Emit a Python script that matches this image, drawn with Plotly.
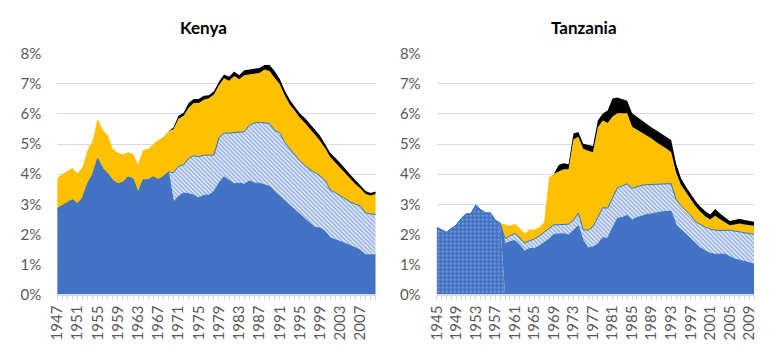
import plotly.graph_objects as go

# ---------------- DATA ----------------
kenya_years = list(range(1947, 2011))
kenya_blue = [2.86, 2.96, 3.07, 3.15, 3.02, 3.21, 3.68, 3.99, 4.52, 4.19,
              4.02, 3.79, 3.68, 3.73, 3.91, 3.84, 3.39, 3.81, 3.81, 3.91,
              3.82, 3.92, 4.07,
              3.07, 3.26, 3.37, 3.35, 3.30, 3.21, 3.30, 3.30, 3.42, 3.70,
              3.91, 3.79, 3.68, 3.70, 3.66, 3.77, 3.70, 3.70, 3.65, 3.59,
              3.42, 3.26, 3.10, 2.97, 2.82, 2.66, 2.52, 2.37, 2.23, 2.21,
              2.10, 1.89, 1.82, 1.77, 1.70, 1.63, 1.56, 1.47, 1.32, 1.32,
              1.32]
kenya_hatched = [0] * 23 + [
              0.98, 1.00, 0.94, 1.17, 1.31, 1.37, 1.33, 1.33, 1.21, 1.51,
              1.45, 1.57, 1.70, 1.70, 1.75, 1.85, 2.00, 2.02, 2.05, 2.09,
              2.03, 2.12, 1.95, 1.87, 1.81, 1.78, 1.77, 1.78, 1.82, 1.73,
              1.69, 1.58, 1.57, 1.51, 1.48, 1.44, 1.44, 1.47, 1.39, 1.36,
              1.33]
kenya_yellow = [1.00, 1.04, 1.03, 1.05, 1.00, 1.02, 1.11, 1.11, 1.32, 1.28,
                1.26, 1.05, 1.03, 0.92, 0.82, 0.84, 0.94, 0.99, 1.03, 1.09,
                1.31, 1.31, 1.35,
                1.44, 1.58, 1.63, 1.68, 1.75, 1.78, 1.84, 1.89, 2.01, 1.74,
                1.82, 1.74, 1.88, 1.75, 1.87, 1.69, 1.62, 1.64, 1.77, 1.74,
                1.75, 1.61, 1.57, 1.47, 1.47, 1.43, 1.41, 1.37, 1.26, 1.16,
                1.07, 1.10, 1.00, 0.95, 0.87, 0.77, 0.66, 0.58, 0.63, 0.61,
                0.69]
kenya_black = [0] * 23 + [
               0.06, 0.10, 0.10, 0.16, 0.13, 0.13, 0.13, 0.10, 0.11, 0.12,
               0.13, 0.13, 0.15, 0.13, 0.17, 0.16, 0.17, 0.16, 0.15, 0.20,
               0.22, 0.18, 0.16, 0.16, 0.14, 0.14, 0.16, 0.16, 0.16, 0.17,
               0.15, 0.14, 0.15, 0.14, 0.13, 0.14, 0.14, 0.11, 0.10, 0.08,
               0.08]

tz_years = list(range(1945, 2011))
tz_dotted = [2.23, 2.15, 2.07, 2.19, 2.31, 2.52, 2.68, 2.68, 2.97, 2.82,
             2.71, 2.71, 2.47, 2.37] + [0] * 52
tz_blue = [0] * 14 + [
           1.68, 1.76, 1.79, 1.65, 1.44, 1.53, 1.53, 1.61, 1.72, 1.84,
           2.00, 2.02, 2.02, 1.98, 2.14, 2.28, 1.79, 1.55, 1.58, 1.68,
           1.89, 1.86, 2.21, 2.53, 2.56, 2.63, 2.47, 2.56, 2.60, 2.66,
           2.68, 2.72, 2.74, 2.76, 2.76, 2.32, 2.16, 2.00, 1.84, 1.68,
           1.55, 1.45, 1.37, 1.34, 1.34, 1.34, 1.26, 1.18, 1.14, 1.11,
           1.06, 1.00]
tz_hatched = [0] * 14 + [
              0.18, 0.19, 0.24, 0.24, 0.27, 0.26, 0.31, 0.34, 0.35, 0.37,
              0.32, 0.30, 0.30, 0.36, 0.33, 0.43, 0.37, 0.59, 0.68, 0.90,
              1.00, 1.01, 1.00, 1.02, 1.05, 1.05, 1.06, 1.02, 1.03, 0.99,
              0.97, 0.95, 0.93, 0.92, 0.92, 0.84, 0.79, 0.79, 0.79, 0.74,
              0.77, 0.79, 0.81, 0.80, 0.79, 0.79, 0.88, 0.93, 0.94, 0.94,
              0.96, 1.00]
tz_yellow = [0] * 14 + [
             0.46, 0.34, 0.32, 0.32, 0.32, 0.37, 0.32, 0.29, 0.33, 1.68,
             1.69, 1.76, 1.84, 1.82, 2.68, 2.53, 2.68, 2.64, 2.47, 2.98,
             2.89, 2.83, 2.70, 2.47, 2.41, 2.34, 2.04, 1.89, 1.75, 1.64,
             1.53, 1.39, 1.29, 1.17, 1.05, 0.89, 0.70, 0.61, 0.52, 0.51,
             0.43, 0.35, 0.31, 0.48, 0.37, 0.27, 0.16, 0.22, 0.28, 0.28,
             0.29, 0.29]
tz_black = [0] * 25 + [
            0.22, 0.20, 0.17, 0.20, 0.16, 0.17, 0.20, 0.20, 0.22, 0.23,
            0.41, 0.60, 0.52, 0.48, 0.42, 0.45, 0.43, 0.42, 0.39, 0.37,
            0.39, 0.38, 0.39, 0.40, 0.30, 0.22, 0.19, 0.18, 0.18, 0.17,
            0.18, 0.17, 0.22, 0.19, 0.15, 0.14, 0.15, 0.16, 0.15, 0.14,
            0.13]

titles = ["Kenya", "Tanzania"]

# ---------------- STYLE ----------------
BLUE = "#4472C4"
BLUE_LINE = "#2E75C6"
YELLOW = "#FFC000"
GRID = "#D9D9D9"
TXT = "#595959"
FONT = "Lato"
W, H = 769, 351

fig = go.Figure()


def add_stack(x, ys, xa, ya, grp, dotted=None):
    blue, hatched, yellow, black = ys
    if dotted is not None:
        fig.add_trace(go.Scatter(
            x=x, y=dotted, xaxis=xa, yaxis=ya, stackgroup=grp, mode="lines",
            line=dict(width=0, color=BLUE), fillcolor=BLUE,
            fillpattern=dict(shape=".", fgcolor="#A9BFE6", bgcolor=BLUE,
                             size=4, solidity=0.25),
            hoverinfo="skip", showlegend=False))
    fig.add_trace(go.Scatter(
        x=x, y=blue, xaxis=xa, yaxis=ya, stackgroup=grp, mode="lines",
        line=dict(width=1, color=BLUE_LINE), fillcolor=BLUE,
        hoverinfo="skip", showlegend=False))
    fig.add_trace(go.Scatter(
        x=x, y=hatched, xaxis=xa, yaxis=ya, stackgroup=grp, mode="lines",
        line=dict(width=1, color=BLUE_LINE), fillcolor="white",
        fillpattern=dict(shape="\\", fgcolor=BLUE, bgcolor="white",
                         size=3, solidity=0.7),
        hoverinfo="skip", showlegend=False))
    fig.add_trace(go.Scatter(
        x=x, y=yellow, xaxis=xa, yaxis=ya, stackgroup=grp, mode="lines",
        line=dict(width=0, color=YELLOW), fillcolor=YELLOW,
        hoverinfo="skip", showlegend=False))
    fig.add_trace(go.Scatter(
        x=x, y=black, xaxis=xa, yaxis=ya, stackgroup=grp, mode="lines",
        line=dict(width=0, color="black"), fillcolor="black",
        hoverinfo="skip", showlegend=False))


add_stack(kenya_years, (kenya_blue, kenya_hatched, kenya_yellow, kenya_black),
          "x", "y", "k")
add_stack(tz_years, (tz_blue, tz_hatched, tz_yellow, tz_black),
          "x2", "y2", "t", dotted=tz_dotted)

ydom = [51 / H, 305 / H]


def xaxis_cfg(dom, first, last, anchor):
    return dict(domain=dom, range=[first, last], tick0=first, dtick=4,
                tickangle=-90, ticks="outside", ticklen=4, tickcolor=GRID,
                minor=dict(dtick=1, ticks="outside", ticklen=4,
                           tickcolor=GRID, showgrid=False),
                showline=True, linecolor=GRID, linewidth=1,
                showgrid=False, zeroline=False, anchor=anchor,
                tickfont=dict(family=FONT, size=15, color=TXT))


def yaxis_cfg(anchor):
    return dict(domain=ydom, range=[0, 8], dtick=1, ticksuffix="%",
                showgrid=True, gridcolor=GRID, gridwidth=1, zeroline=False,
                showline=False, anchor=anchor, ticklabelstandoff=15,
                tickfont=dict(family=FONT, size=15, color=TXT))


fig.update_layout(
    width=W, height=H, margin=dict(l=0, r=0, t=0, b=0),
    paper_bgcolor="white", plot_bgcolor="white", showlegend=False,
    xaxis=xaxis_cfg([48 / W, 372 / W], kenya_years[0], kenya_years[-1], "y"),
    yaxis=yaxis_cfg("x"),
    xaxis2=xaxis_cfg([434 / W, 757 / W], tz_years[0], tz_years[-1], "y2"),
    yaxis2=yaxis_cfg("x2"),
    annotations=[
        dict(text="<b>%s</b>" % titles[0], x=197 / W, y=1 - 18 / H,
             xref="paper", yref="paper", showarrow=False,
             xanchor="center", yanchor="middle",
             font=dict(family=FONT, size=17, color="black")),
        dict(text="<b>%s</b>" % titles[1], x=584 / W, y=1 - 18 / H,
             xref="paper", yref="paper", showarrow=False,
             xanchor="center", yanchor="middle",
             font=dict(family=FONT, size=17, color="black")),
    ],
)

fig.write_html("out.html")
